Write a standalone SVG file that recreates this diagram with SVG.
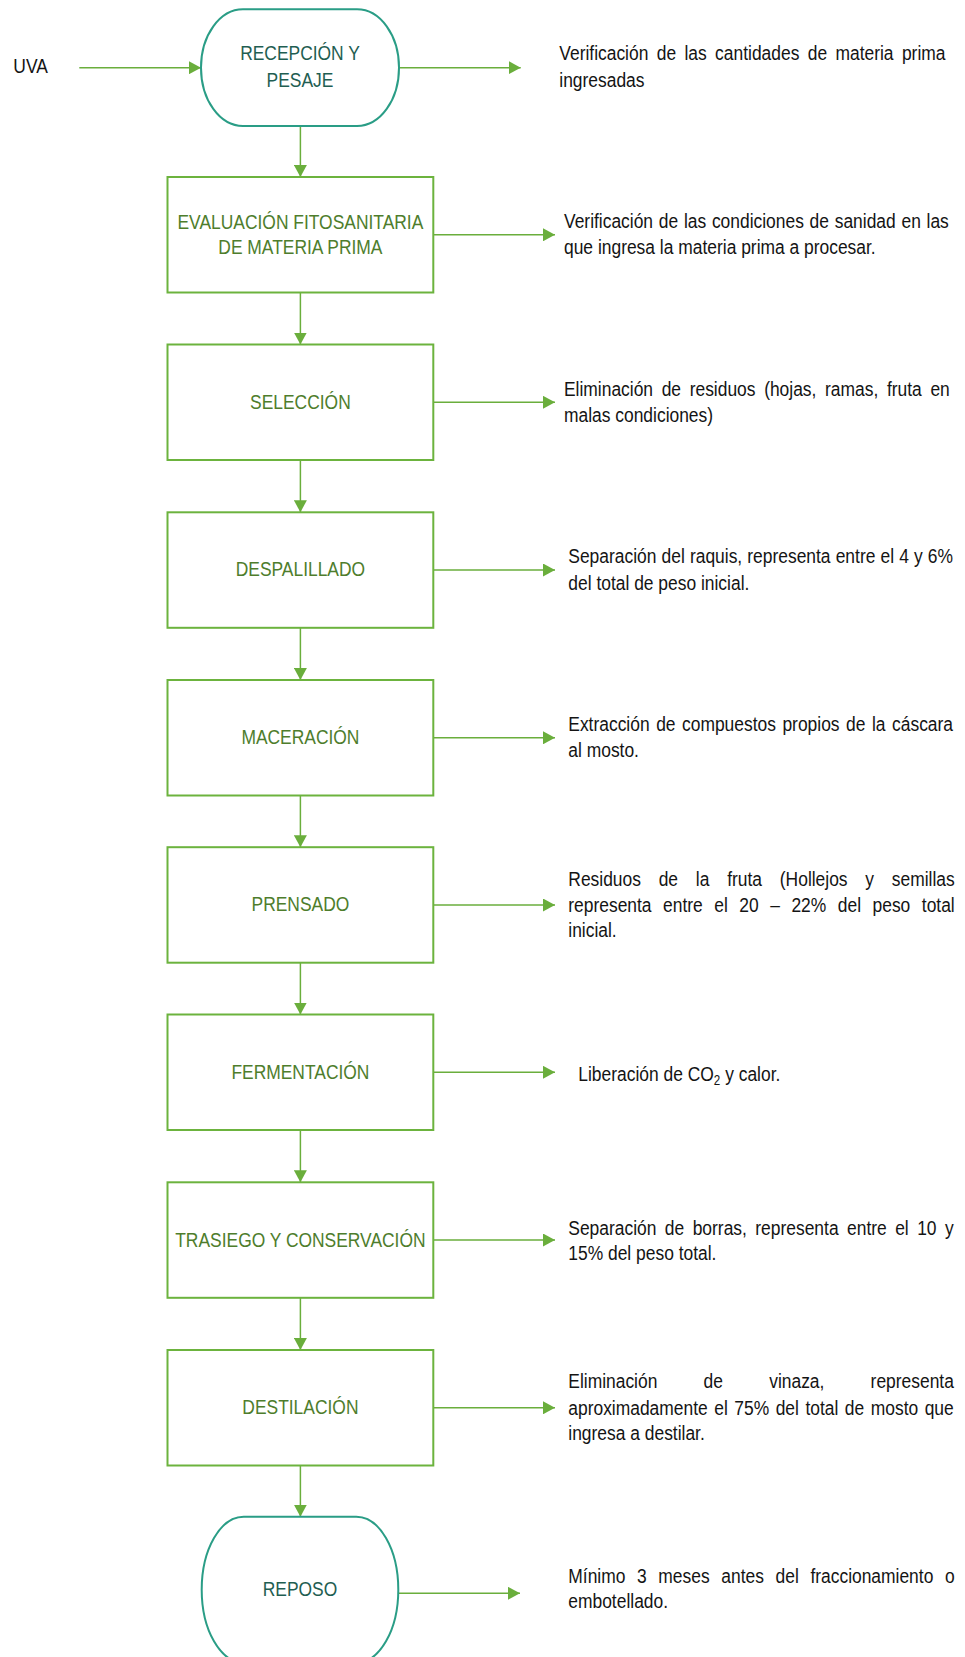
<svg xmlns="http://www.w3.org/2000/svg" width="965" height="1657" viewBox="0 0 965 1657">
<style>
text{font-family:"Liberation Sans",Arial,sans-serif;font-size:21px}
.lbl{fill:#4e7d2c;text-anchor:middle}
.tlbl{fill:#1f5e52;text-anchor:middle}
.desc{fill:#141414}
.box{fill:#fff;stroke:#6cb33e;stroke-width:2}
.term{fill:#fff;stroke:#2a9d86;stroke-width:2}
.con{fill:none;stroke:#6aae3c;stroke-width:1.5;marker-end:url(#ah)}
</style>
<defs>
<marker id="ah" viewBox="0 0 12 13" refX="12" refY="6.5" markerWidth="12" markerHeight="13" markerUnits="userSpaceOnUse" orient="auto">
<path d="M0,0 L12,6.5 L0,13 Z" fill="#6aae3c"/>
</marker>
</defs>
<rect width="965" height="1657" fill="#fff"/>

<g id="connectors">
<line class="con" x1="79.3" y1="67.7" x2="201" y2="67.7"/>
<line class="con" x1="399" y1="67.7" x2="520.7" y2="67.7"/>
<line class="con" x1="300.4" y1="126" x2="300.4" y2="177"/>
<line class="con" x1="433.3" y1="234.8" x2="555" y2="234.8"/>
<line class="con" x1="300.4" y1="292.5" x2="300.4" y2="344.5"/>
<line class="con" x1="433.3" y1="402.3" x2="555" y2="402.3"/>
<line class="con" x1="300.4" y1="460" x2="300.4" y2="512.3"/>
<line class="con" x1="433.3" y1="570" x2="555" y2="570"/>
<line class="con" x1="300.4" y1="627.8" x2="300.4" y2="680"/>
<line class="con" x1="433.3" y1="737.8" x2="555" y2="737.8"/>
<line class="con" x1="300.4" y1="795.5" x2="300.4" y2="847.2"/>
<line class="con" x1="433.3" y1="905" x2="555" y2="905"/>
<line class="con" x1="300.4" y1="962.7" x2="300.4" y2="1014.5"/>
<line class="con" x1="433.3" y1="1072.3" x2="555" y2="1072.3"/>
<line class="con" x1="300.4" y1="1130" x2="300.4" y2="1182.3"/>
<line class="con" x1="433.3" y1="1240" x2="555" y2="1240"/>
<line class="con" x1="300.4" y1="1297.8" x2="300.4" y2="1350"/>
<line class="con" x1="433.3" y1="1407.8" x2="555" y2="1407.8"/>
<line class="con" x1="300.4" y1="1465.5" x2="300.4" y2="1516.7"/>
<line class="con" x1="398.3" y1="1593.3" x2="520" y2="1593.3"/>
</g>

<g id="uva">
<text class="desc" transform="translate(13.3,0) scale(0.83,1)" x="0" y="73.3">UVA</text>
</g>

<g id="recepcion">
<rect class="term" x="201" y="9.3" width="198" height="116.7" rx="42" ry="58.3"/>
<text class="tlbl" transform="translate(300,0) scale(0.83,1)"><tspan x="0" y="60">RECEPCIÓN Y</tspan><tspan x="0" y="87.3">PESAJE</tspan></text>
</g>
<g id="recepcion-desc">
<text class="desc" transform="translate(559.3,0) scale(0.83,1)"><tspan x="0" y="60" style="word-spacing:4.26px">Verificación de las cantidades de materia prima</tspan><tspan x="0" y="87.3">ingresadas</tspan></text>
</g>

<g id="evaluacion">
<rect class="box" x="167.5" y="177" width="265.8" height="115.5"/>
<text class="lbl" transform="translate(300.4,0) scale(0.83,1)"><tspan x="0" y="229">EVALUACIÓN FITOSANITARIA</tspan><tspan x="0" y="254">DE MATERIA PRIMA</tspan></text>
</g>
<g id="evaluacion-desc">
<text class="desc" transform="translate(564,0) scale(0.83,1)"><tspan x="0" y="228.3" style="word-spacing:1.08px">Verificación de las condiciones de sanidad en las</tspan><tspan x="0" y="254.3">que ingresa la materia prima a procesar.</tspan></text>
</g>

<g id="seleccion">
<rect class="box" x="167.5" y="344.5" width="265.8" height="115.5"/>
<text class="lbl" transform="translate(300.4,0) scale(0.83,1)" x="0" y="408.8">SELECCIÓN</text>
</g>
<g id="seleccion-desc">
<text class="desc" transform="translate(564,0) scale(0.83,1)"><tspan x="0" y="395.7" style="word-spacing:4.57px">Eliminación de residuos (hojas, ramas, fruta en</tspan><tspan x="0" y="421.7">malas condiciones)</tspan></text>
</g>

<g id="despalillado">
<rect class="box" x="167.5" y="512.3" width="265.8" height="115.5"/>
<text class="lbl" transform="translate(300.4,0) scale(0.83,1)" x="0" y="576.5">DESPALILLADO</text>
</g>
<g id="despalillado-desc">
<text class="desc" transform="translate(568.3,0) scale(0.83,1)"><tspan x="0" y="562.7" style="word-spacing:0.35px">Separación del raquis, representa entre el 4 y 6%</tspan><tspan x="0" y="590">del total de peso inicial.</tspan></text>
</g>

<g id="maceracion">
<rect class="box" x="167.5" y="680" width="265.8" height="115.5"/>
<text class="lbl" transform="translate(300.4,0) scale(0.83,1)" x="0" y="744.3">MACERACIÓN</text>
</g>
<g id="maceracion-desc">
<text class="desc" transform="translate(568.3,0) scale(0.83,1)"><tspan x="0" y="730.7" style="word-spacing:2.03px">Extracción de compuestos propios de la cáscara</tspan><tspan x="0" y="757.3">al mosto.</tspan></text>
</g>

<g id="prensado">
<rect class="box" x="167.5" y="847.2" width="265.8" height="115.5"/>
<text class="lbl" transform="translate(300.4,0) scale(0.83,1)" x="0" y="911.5">PRENSADO</text>
</g>
<g id="prensado-desc">
<text class="desc" transform="translate(568.3,0) scale(0.83,1)"><tspan x="0" y="886" style="word-spacing:15.6px">Residuos de la fruta (Hollejos y semillas</tspan><tspan x="0" y="911.7" style="word-spacing:8.04px">representa entre el 20 – 22% del peso total</tspan><tspan x="0" y="937.3">inicial.</tspan></text>
</g>

<g id="fermentacion">
<rect class="box" x="167.5" y="1014.5" width="265.8" height="115.5"/>
<text class="lbl" transform="translate(300.4,0) scale(0.83,1)" x="0" y="1078.8">FERMENTACIÓN</text>
</g>
<g id="fermentacion-desc">
<text class="desc" transform="translate(578.3,0) scale(0.83,1)" x="0" y="1080.7">Liberación de CO<tspan dy="4" style="font-size:14px">2</tspan><tspan dy="-4"> y calor.</tspan></text>
</g>

<g id="trasiego">
<rect class="box" x="167.5" y="1182.3" width="265.8" height="115.5"/>
<text class="lbl" transform="translate(300.4,0) scale(0.83,1)" x="0" y="1246.6">TRASIEGO Y CONSERVACIÓN</text>
</g>
<g id="trasiego-desc">
<text class="desc" transform="translate(568.3,0) scale(0.83,1)"><tspan x="0" y="1235" style="word-spacing:4.35px">Separación de borras, representa entre el 10 y</tspan><tspan x="0" y="1260">15% del peso total.</tspan></text>
</g>

<g id="destilacion">
<rect class="box" x="167.5" y="1350" width="265.8" height="115.5"/>
<text class="lbl" transform="translate(300.4,0) scale(0.83,1)" x="0" y="1414.3">DESTILACIÓN</text>
</g>
<g id="destilacion-desc">
<text class="desc" transform="translate(568.3,0) scale(0.83,1)"><tspan x="0" y="1388.3" style="word-spacing:49.87px">Eliminación de vinaza, representa</tspan><tspan x="0" y="1415" style="word-spacing:2.02px">aproximadamente el 75% del total de mosto que</tspan><tspan x="0" y="1440">ingresa a destilar.</tspan></text>
</g>

<g id="reposo">
<rect class="term" x="201.7" y="1516.7" width="196.6" height="146" rx="42" ry="73"/>
<text class="tlbl" transform="translate(300,0) scale(0.83,1)" x="0" y="1595.7">REPOSO</text>
</g>
<g id="reposo-desc">
<text class="desc" transform="translate(568.3,0) scale(0.83,1)"><tspan x="0" y="1582.7" style="word-spacing:8.19px">Mínimo 3 meses antes del fraccionamiento o</tspan><tspan x="0" y="1608.3">embotellado.</tspan></text>
</g>
</svg>
